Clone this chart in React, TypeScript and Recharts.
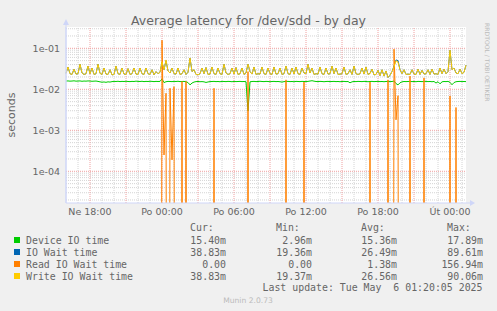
import React from "react";
import { LineChart, Line, XAxis, YAxis, CartesianGrid, ReferenceLine } from "recharts";

// 10-minute samples from Sun 16:00 to Tue 01:20, values in milliseconds
const deviceIO = [
  15.9, 16.0, 15.8, 15.9, 16.1, 15.8, 15.9, 16.0, 15.7, 15.9,
  15.8, 16.0, 15.9, 15.7, 15.8, 15.9, 15.6, 15.2, 14.9, 15.1,
  14.8, 15.2, 15.0, 15.4, 15.6, 15.5, 15.7, 15.4, 15.6, 15.5,
  15.7, 15.5, 15.4, 15.6, 15.5, 15.8, 15.6, 15.5, 15.7, 15.4,
  15.6, 15.5, 15.7, 15.6, 15.4, 15.6, 15.5, 15.6, 17.89, 14.6,
  15.3, 15.6, 15.5, 15.4, 15.6, 15.5, 15.7, 15.4, 15.5, 15.6,
  15.3, 14.6, 12.8, 14.2, 15.0, 15.4, 15.5, 15.3, 15.4, 15.2,
  14.7, 15.1, 15.4, 15.5, 15.6, 15.4, 15.5, 15.3, 15.6, 15.5,
  15.4, 15.6, 15.5, 15.3, 15.6, 15.4, 15.5, 15.6, 15.4, 15.5,
  15.3, 2.96, 15.2, 15.5, 15.6, 15.4, 15.5, 15.7, 15.5, 15.4,
  15.6, 15.5, 15.3, 15.5, 15.6, 15.4, 15.5, 15.3, 15.0, 15.4,
  15.5, 15.6, 15.4, 15.5, 15.3, 15.6, 15.5, 15.4, 15.6, 15.5,
  15.4, 15.6, 15.9, 16.2, 15.8, 15.5, 15.4, 15.6, 15.5, 15.3,
  15.5, 15.6, 15.4, 15.5, 15.6, 15.4, 15.5, 15.3, 15.5, 15.6,
  15.4, 15.5, 14.4, 15.2, 15.5, 15.4, 15.6, 15.5, 15.4, 15.6,
  15.5, 15.3, 15.5, 15.6, 15.4, 15.5, 15.6, 15.4, 15.5, 15.3,
  15.5, 15.6, 15.4, 15.5, 15.9, 13.8, 12.8, 14.4, 15.2, 15.5,
  15.4, 15.5, 15.6, 15.4, 15.5, 15.3, 15.6, 15.5, 15.4, 15.5,
  15.6, 15.4, 15.5, 15.3, 15.5, 14.2, 15.3, 13.6, 15.2, 15.5,
  15.4, 15.6, 14.8, 12.9, 14.6, 15.3, 15.5, 15.6, 15.4, 15.5,
  15.4,
];

const ioWait = [
  24.5, 35, 24, 23, 31, 23.5, 24, 41, 25, 23,
  24, 37, 24, 33, 23, 24, 41, 24.5, 23, 33,
  23.5, 23, 30, 22.5, 23, 37, 24, 23, 33, 23.5,
  23, 32, 23, 24, 33, 23.5, 23, 33, 24, 23,
  33, 24, 23, 30, 22.5, 27, 24, 26, 46, 30,
  50, 28, 25, 33, 24, 23.5, 33, 23, 24, 30,
  23, 26, 58, 27, 30, 23, 22.5, 24, 33, 24,
  34, 23, 23.5, 35, 24, 23, 33, 24, 23, 41,
  25, 23, 24, 33, 23.5, 34, 23, 24, 33, 23,
  25, 41, 27, 23.5, 35, 23, 24, 23.5, 35, 24,
  23, 33, 24, 23, 35, 23.5, 24, 33, 23, 24,
  37, 24, 23, 33, 23.5, 35, 24, 23, 33, 25,
  24, 41, 25, 33, 23, 24, 23.5, 35, 24, 23,
  33, 23.5, 24, 37, 24, 33, 23, 23.5, 24, 35,
  23, 24, 30, 23, 37, 24, 23, 24, 33, 23.5,
  35, 23, 24.6, 31, 22.5, 23, 29, 21.5, 30, 21,
  28, 19.36, 22, 27, 37, 52, 50, 30, 24, 30,
  23, 23.5, 23, 30, 23.5, 23, 31, 23, 29, 23.5,
  24, 30, 23, 31, 23.5, 24, 23, 33, 24, 31,
  24, 27, 89.61, 30, 33, 25, 24, 31, 24, 26,
  38.83,
];

const readWait = [
  0, 0, 0, 0, 0, 0, 0, 0, 0, 0,
  0, 0, 0, 0, 0, 0, 0, 0, 0, 0,
  0, 0, 0, 0, 0, 0, 0, 0, 0, 0,
  0, 0, 0, 0, 0, 0, 0, 0, 0, 0,
  0, 0, 0, 0, 0, 0, 0, 0, 156.94, 0.25,
  8.0, 0, 10.6, 0.19, 11.6, 0, 0, 0, 15.5, 0,
  15.5, 0, 0, 0, 0, 0, 0, 0, 0, 0,
  0, 0, 0, 0, 10.6, 0, 0, 0, 0, 0,
  0, 0, 0, 0, 0, 0, 0, 0, 0, 0,
  0, 27, 0, 0, 0, 0, 0, 0, 0, 0,
  0, 0, 0, 0, 0, 0, 0, 0, 0, 0,
  17, 0, 0, 0, 0, 0, 0, 0, 0, 15,
  0, 0, 0, 0, 0, 0, 0, 0, 0, 0,
  0, 0, 0, 0, 0, 0, 0, 0, 0, 0,
  0, 0, 0, 0, 0, 0, 0, 0, 0, 0,
  0, 0, 15, 0, 0, 0, 0, 0, 0, 0,
  0, 17, 0, 0, 95, 1.8, 7.0, 0, 0, 0,
  0, 0, 21, 0, 0, 0, 0, 0, 0, 19,
  0, 0, 0, 0, 0, 0, 0, 0, 0, 0,
  0, 0, 6.9, 0, 0, 3.6, 0, 0, 0, 0,
  0,
];

const writeWait = [
  24.5, 35, 24, 23, 31, 23.5, 24, 41, 25, 23,
  24, 37, 24, 33, 23, 24, 41, 24.5, 23, 33,
  23.5, 23, 30, 22.5, 23, 37, 24, 23, 33, 23.5,
  23, 32, 23, 24, 33, 23.5, 23, 33, 24, 23,
  33, 24, 23, 30, 22.5, 27, 24, 26, 47, 30,
  52, 28, 25, 33, 24, 23.5, 33, 23, 24, 30,
  23, 26, 58, 27, 30, 23, 22.5, 24, 33, 24,
  34, 23, 23.5, 35, 24, 23, 33, 24, 23, 41,
  25, 23, 24, 33, 23.5, 34, 23, 24, 33, 23,
  25, 41, 27, 23.5, 35, 23, 24, 23.5, 35, 24,
  23, 33, 24, 23, 35, 23.5, 24, 33, 23, 24,
  37, 24, 23, 33, 23.5, 35, 24, 23, 33, 25,
  24, 41, 25, 33, 23, 24, 23.5, 35, 24, 23,
  33, 23.5, 24, 37, 24, 33, 23, 23.5, 24, 35,
  23, 24, 30, 23, 37, 24, 23, 24, 33, 23.5,
  35, 23, 24, 31, 22.5, 23, 29, 21.5, 30, 21,
  28, 19.37, 22, 27, 35, 50, 46, 30, 24, 30,
  23, 23.5, 23, 30, 23.5, 23, 31, 23, 29, 23.5,
  24, 30, 23, 31, 23.5, 24, 23, 33, 24, 31,
  24, 27, 90.06, 30, 33, 25, 24, 31, 24, 26,
  38.83,
];

const xTicks = [120, 480, 840, 1200, 1560, 1920];
const xTickLabels = ["Ne 18:00", "Po 00:00", "Po 06:00", "Po 12:00", "Po 18:00", "Út 00:00"];
const yTicks = [1e-4, 1e-3, 1e-2, 1e-1];
const yTickLabels = ["1e-04", "1e-03", "1e-02", "1e-01"];

const seriesNames = ["Device IO time", "IO Wait time", "Read IO Wait time", "Write IO Wait time"];
const seriesColors = ["#00cc00", "#0066b3", "#ff8000", "#ffcc00"];
const curVals = ["15.40m", "38.83m", "0.00", "38.83m"];
const minVals = ["2.96m", "19.36m", "0.00", "19.37m"];
const avgVals = ["15.36m", "26.49m", "1.38m", "26.56m"];
const maxVals = ["17.89m", "89.61m", "156.94m", "90.06m"];

const Y_MIN = 1.686e-5;
const Y_MAX = 0.3307;
const FLOOR = 1e-30; // zero on a log axis: push far below the canvas

const rows = writeWait.map((w, i) => ({
  m: i * 10,
  device: deviceIO[i] / 1000,
  iowait: ioWait[i] / 1000,
  read: readWait[i] > 0 ? readWait[i] / 1000 : FLOOR,
  write: w / 1000,
}));

const hourLines: { m: number; major: boolean }[] = [];
for (let k = 1; k < 34; k++) hourLines.push({ m: k * 60, major: (16 + k) % 3 === 0 });

const logLines: { v: number; major: boolean }[] = [];
for (let e = -5; e <= -1; e++) {
  for (let k = 1; k <= 9; k++) {
    const v = k * Math.pow(10, e);
    if (v > Y_MIN && v < Y_MAX) logLines.push({ v, major: k === 1 });
  }
}

const MINOR = "#d4d4d4";
const MAJOR = "#f0a0a0";
const AXIS = "#cfd6f8";
const FONT = "#666666";

const App: React.FC = () => {
  const tickStyle = { fontSize: 9.5, fill: FONT, fontFamily: "DejaVu Sans" };
  const mono = { fontFamily: "DejaVu Sans Mono", fontSize: 9.9, fill: FONT, whiteSpace: "pre" as const };
  const rowY = [240, 252, 264, 276];
  return (
    <div style={{ position: "absolute", left: 0, top: 0, width: 497, height: 311, background: "#f0f0f0", overflow: "hidden" }}>
      <LineChart width={497} height={311} data={rows} margin={{ top: 27, right: 31, bottom: 88, left: 0 }}>
        <CartesianGrid fill="#ffffff" horizontal={false} vertical={false} stroke="none" />
        {logLines.filter(l => !l.major).map(l => (
          <ReferenceLine key={"h" + l.v} y={l.v} stroke={MINOR} strokeDasharray="1 1" ifOverflow="discard" />
        ))}
        {hourLines.filter(l => !l.major).map(l => (
          <ReferenceLine key={"v" + l.m} x={l.m} stroke={MINOR} strokeDasharray="1 1" />
        ))}
        {logLines.filter(l => l.major).map(l => (
          <ReferenceLine key={"H" + l.v} y={l.v} stroke={MAJOR} strokeDasharray="1 1" ifOverflow="discard" />
        ))}
        {hourLines.filter(l => l.major).map(l => (
          <ReferenceLine key={"V" + l.m} x={l.m} stroke={MAJOR} strokeDasharray="1 1" />
        ))}
        <XAxis
          dataKey="m"
          type="number"
          domain={[0, 2000]}
          ticks={xTicks}
          interval={0}
          tickFormatter={(v: number) => xTickLabels[xTicks.indexOf(v)] ?? ""}
          height={20}
          tickLine={false}
          tickSize={0}
          tickMargin={5}
          axisLine={{ stroke: AXIS }}
          tick={tickStyle}
        />
        <YAxis
          scale="log"
          domain={[Y_MIN, Y_MAX]}
          allowDataOverflow
          ticks={yTicks}
          interval={0}
          tickFormatter={(v: number) => yTickLabels[yTicks.indexOf(v)] ?? ""}
          width={66}
          tickLine={false}
          tickSize={0}
          tickMargin={6}
          axisLine={{ stroke: AXIS }}
          tick={tickStyle}
        />
        <Line dataKey="device" stroke={seriesColors[0]} strokeWidth={1} dot={false} isAnimationActive={false} />
        <Line dataKey="iowait" stroke={seriesColors[1]} strokeWidth={1} dot={false} isAnimationActive={false} />
        <Line dataKey="read" stroke={seriesColors[2]} strokeWidth={1} dot={false} isAnimationActive={false} />
        <Line dataKey="write" stroke={seriesColors[3]} strokeWidth={1} dot={false} isAnimationActive={false} />
      </LineChart>
      <svg width={497} height={311} style={{ position: "absolute", left: 0, top: 0, pointerEvents: "none" }}>
        <line x1={66} y1={203} x2={66} y2={24} stroke={AXIS} />
        <polygon points="63,25 69,25 66,19" fill={AXIS} />
        <line x1={466} y1={203} x2={470} y2={203} stroke={AXIS} />
        <polygon points="470,200 470,206 475,203" fill={AXIS} />
        <text x={248.5} y={20} textAnchor="middle" dominantBaseline="central" fontFamily="DejaVu Sans" fontSize={12.5} fill={FONT}>
          Average latency for /dev/sdd - by day
        </text>
        <text x={11} y={115} transform="rotate(-90 11 115)" textAnchor="middle" dominantBaseline="central" fontFamily="DejaVu Sans" fontSize={11} fill={FONT}>
          seconds
        </text>
        <text x={487.5} y={23} transform="rotate(90 487.5 23)" dominantBaseline="central" fontFamily="DejaVu Sans" fontSize={6.1} fill="#bbbbbb">
          RRDTOOL / TOBI OETIKER
        </text>
        <text x={190} y={227.5} dominantBaseline="central" style={mono}>Cur:</text>
        <text x={276} y={227.5} dominantBaseline="central" style={mono}>Min:</text>
        <text x={361} y={227.5} dominantBaseline="central" style={mono}>Avg:</text>
        <text x={447} y={227.5} dominantBaseline="central" style={mono}>Max:</text>
        {seriesNames.map((name, i) => (
          <g key={name}>
            <rect x={14} y={rowY[i] - 3} width={6} height={6} fill={seriesColors[i]} />
            <text x={26} y={rowY[i]} dominantBaseline="central" style={mono}>{name}</text>
            <text x={226} y={rowY[i]} textAnchor="end" dominantBaseline="central" style={mono}>{curVals[i]}</text>
            <text x={312} y={rowY[i]} textAnchor="end" dominantBaseline="central" style={mono}>{minVals[i]}</text>
            <text x={397} y={rowY[i]} textAnchor="end" dominantBaseline="central" style={mono}>{avgVals[i]}</text>
            <text x={483} y={rowY[i]} textAnchor="end" dominantBaseline="central" style={mono}>{maxVals[i]}</text>
          </g>
        ))}
        <text x={482.5} y={287.5} textAnchor="end" dominantBaseline="central" style={mono}>
          Last update: Tue May  6 01:20:05 2025
        </text>
        <text x={248} y={300} textAnchor="middle" dominantBaseline="central" fontFamily="DejaVu Sans" fontSize={7.6} fill="#bbbbbb">
          Munin 2.0.73
        </text>
      </svg>
    </div>
  );
};

export default App;
